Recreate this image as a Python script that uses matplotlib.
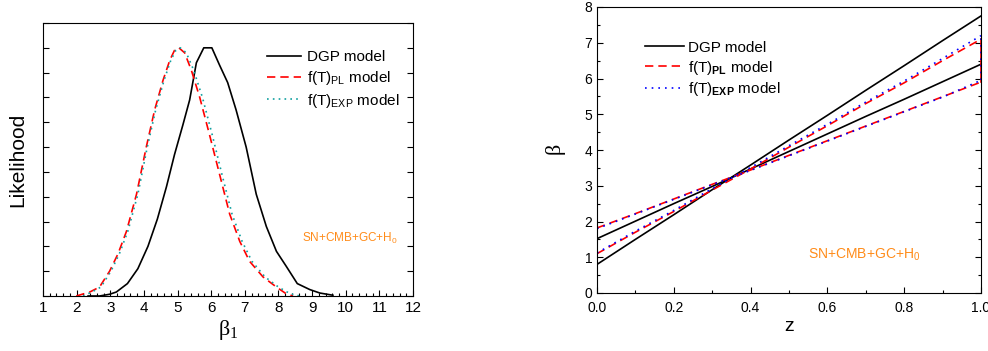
import matplotlib
matplotlib.use('Agg')
import matplotlib.pyplot as plt
import numpy as np
from matplotlib.ticker import MultipleLocator

plt.rcParams['font.family'] = ['Liberation Sans', 'DejaVu Sans']
plt.rcParams['mathtext.fontset'] = 'custom'
plt.rcParams['mathtext.rm'] = 'Liberation Sans'
plt.rcParams['mathtext.bf'] = 'Liberation Sans:bold'

# left panel: likelihood of beta_1
dgp_b = [2.34, 2.68, 2.98, 3.18, 3.51, 3.82, 4.12, 4.40, 4.67, 4.91, 5.16, 5.36, 5.56, 5.78,
         6.02, 6.25, 6.49, 6.74, 7.04, 7.34, 7.64, 7.94, 8.23, 8.56, 8.93, 9.23, 9.62]
dgp_l = [0.0, 0.0, 0.007, 0.016, 0.05, 0.11, 0.20, 0.31, 0.44, 0.57, 0.69, 0.79, 0.94, 1.0,
         1.0, 0.93, 0.86, 0.75, 0.60, 0.41, 0.28, 0.18, 0.12, 0.05, 0.026, 0.012, 0.003]
pl_b = [1.99, 2.39, 2.68, 2.98, 3.23, 3.48, 3.78, 4.07, 4.32, 4.57, 4.77, 4.91, 5.04, 5.21,
        5.41, 5.66, 5.95, 6.25, 6.55, 6.85, 7.14, 7.54, 7.94, 8.23, 8.43]
pl_l = [0.0, 0.016, 0.036, 0.10, 0.17, 0.26, 0.41, 0.60, 0.75, 0.87, 0.95, 0.99, 1.0, 0.98,
        0.91, 0.80, 0.65, 0.49, 0.33, 0.22, 0.14, 0.077, 0.036, 0.009, 0.0]
exp_b = [2.19, 2.45, 2.72, 3.02, 3.27, 3.52, 3.82, 4.10, 4.35, 4.60, 4.80, 4.95, 5.08, 5.26,
         5.48, 5.74, 6.03, 6.32, 6.62, 6.92, 7.21, 7.60, 8.00, 8.35, 8.63]
exp_l = [0.0, 0.016, 0.036, 0.10, 0.17, 0.26, 0.41, 0.60, 0.75, 0.87, 0.95, 0.99, 1.0, 0.98,
         0.91, 0.80, 0.65, 0.49, 0.33, 0.22, 0.14, 0.077, 0.036, 0.009, 0.0]

# right panel: beta(z) bands
z = [0.0, 0.1, 0.2, 0.3, 0.4, 0.5, 0.6, 0.7, 0.8, 0.9, 1.0]
dgp_hi = [0.80, 1.50, 2.19, 2.89, 3.58, 4.28, 4.97, 5.67, 6.36, 7.06, 7.75]
dgp_lo = [1.52, 2.01, 2.50, 2.98, 3.47, 3.96, 4.45, 4.94, 5.42, 5.91, 6.40]
pl_hi = [1.10, 1.70, 2.28, 2.88, 3.47, 4.08, 4.68, 5.30, 5.88, 6.50, 7.10]
pl_lo = [1.82, 2.22, 2.63, 3.04, 3.44, 3.85, 4.26, 4.67, 5.08, 5.49, 5.90]
exp_hi = [1.12, 1.73, 2.31, 2.92, 3.51, 4.12, 4.72, 5.34, 5.93, 6.56, 7.20]
exp_lo = [1.80, 2.21, 2.62, 3.03, 3.43, 3.84, 4.25, 4.66, 5.07, 5.48, 5.95]

orange = '#ff8c1a'

fig = plt.figure(figsize=(9.88, 3.51), dpi=100)

# ---- left
ax = fig.add_axes([43/988, 1-296/351, 370/988, 273/351])
ax.plot(dgp_b, dgp_l, color='black', lw=1.2, label='DGP model')
ax.plot(pl_b, pl_l, color='red', lw=1.2, ls=(0, (5, 3)), label=r'f(T)$_{\mathrm{PL}}$ model')
ax.plot(exp_b, exp_l, color='#10a0a0', lw=1.2, ls=(0, (1, 2.5)), label=r'f(T)$_{\mathrm{EXP}}$ model')
ax.set_xlim(1, 12)
ax.set_ylim(0, 1.1)
ax.xaxis.set_major_locator(MultipleLocator(1))
ax.xaxis.set_minor_locator(MultipleLocator(0.2))
ax.yaxis.set_major_locator(MultipleLocator(0.1))
ax.set_yticklabels([])
ax.tick_params(which='both', direction='in', top=False, right=True, labelsize=11)
ax.tick_params(which='major', length=4, width=0.8)
ax.tick_params(which='minor', length=2, width=0.8)
ax.set_ylabel('Likelihood', fontsize=15, labelpad=8)
ax.set_xlabel(r'$\mathregular{\beta_1}$', fontsize=16, family='Liberation Serif', labelpad=2)
ax.legend(loc='upper right', bbox_to_anchor=(1.0, 0.95), frameon=False, fontsize=11,
          handlelength=2.2, handletextpad=0.4, labelspacing=0.3)
ax.text(0.7, 0.21, r'SN+CMB+GC+H$_0$', color=orange, fontsize=8.5, va='center',
        transform=ax.transAxes)

# ---- right
ax2 = fig.add_axes([597/988, 1-293/351, 384/988, 286/351])
ax2.plot(z, dgp_hi, color='black', lw=1.2, label='DGP model')
ax2.plot(z, dgp_lo, color='black', lw=1.2)
ax2.plot(z, pl_hi, color='red', lw=1.2, ls=(0, (5, 3)), label=r'f(T)$_{\mathbf{PL}}$ model')
ax2.plot(z, pl_lo, color='red', lw=1.2, ls=(0, (5, 3)))
ax2.plot(z, exp_hi, color='blue', lw=1.2, ls=(0, (1, 3)), label=r'f(T)$_{\mathbf{EXP}}$ model')
ax2.plot(z, exp_lo, color='blue', lw=1.2, ls=(0, (1, 3)))
ax2.plot([z[-1], z[-1]], [pl_lo[-1], pl_hi[-1]], color='red', lw=1.2)
ax2.plot([z[-1], z[-1]], [exp_lo[-1], exp_hi[-1]], color='blue', lw=1.2, ls=(0, (1, 3)))
ax2.set_xlim(0, 1)
ax2.set_ylim(0, 8)
ax2.xaxis.set_major_locator(MultipleLocator(0.2))
ax2.xaxis.set_minor_locator(MultipleLocator(0.1))
ax2.yaxis.set_major_locator(MultipleLocator(1))
ax2.yaxis.set_minor_locator(MultipleLocator(0.5))
ax2.xaxis.set_major_formatter(plt.FormatStrFormatter('%.1f'))
ax2.tick_params(which='both', direction='in', right=True, labelsize=10)
ax2.tick_params(axis='x', pad=6)
ax2.tick_params(which='major', length=4, width=0.8)
ax2.tick_params(which='minor', length=2, width=0.8)
ax2.set_xlabel('z', fontsize=14, labelpad=2)
ax2.set_ylabel(r'$\mathregular{\beta}$', fontsize=16, family='Liberation Serif', labelpad=12)
ax2.legend(loc='upper left', bbox_to_anchor=(0.09, 0.93), frameon=False, fontsize=11,
           handlelength=2.5, handletextpad=0.3, labelspacing=0.25)
ax2.text(0.55, 0.12, r'SN+CMB+GC+H$_0$', color=orange, fontsize=10, transform=ax2.transAxes)

fig.savefig('out.png', dpi=100)
